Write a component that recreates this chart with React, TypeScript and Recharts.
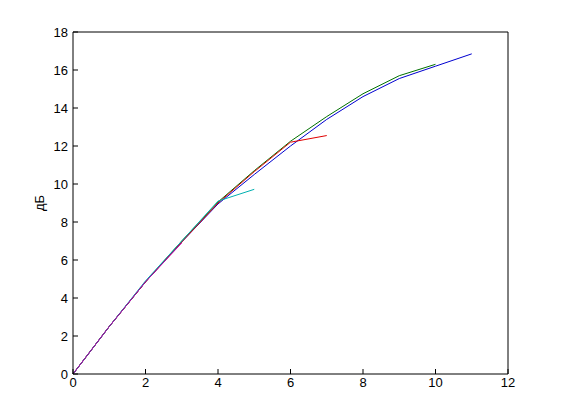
import { LineChart, Line, XAxis, YAxis } from 'recharts'

const xs = [0, 1, 2, 3, 4, 5, 6, 7, 8, 9, 10, 11]
const blue = [0, 2.5, 4.85, 6.95, 8.95, 10.5, 12.0, 13.4, 14.6, 15.55, 16.2, 16.85]
const green = [0, 2.5, 4.85, 7.0, 9.05, 10.7, 12.25, 13.55, 14.75, 15.7, 16.3]
const red = [0, 2.5, 4.85, 6.95, 9.0, 10.65, 12.2, 12.55]
const cyan = [0, 2.5, 4.9, 7.0, 9.1, 9.72]
const magenta = [0, 2.5, 4.85, 6.9]

const xTicks = [0, 2, 4, 6, 8, 10, 12]
const yTicks = [0, 2, 4, 6, 8, 10, 12, 14, 16, 18]

const data = xs.map((x, i) => ({
  x,
  blue: blue[i],
  green: green[i],
  red: red[i],
  cyan: cyan[i],
  magenta: magenta[i],
}))

const series = [
  { key: 'blue', color: '#0000d0' },
  { key: 'green', color: '#007000' },
  { key: 'red', color: '#e00000' },
  { key: 'cyan', color: '#00b0b0' },
  { key: 'magenta', color: '#b000b0' },
]

const tickStyle = { fill: '#000', fontSize: 13, fontFamily: 'Liberation Sans, Arial, sans-serif' }

export default function App() {
  return (
    <LineChart width={553} height={404} data={data} margin={{ top: 4, right: 3, bottom: 0, left: 0 }}>
      <XAxis
        dataKey="x"
        type="number"
        domain={[0, 12]}
        ticks={xTicks}
        height={38}
        tickSize={-5}
        tickMargin={9}
        stroke="#000"
        tick={tickStyle}
      />
      <XAxis xAxisId="top" dataKey="x" type="number" orientation="top" domain={[0, 12]} ticks={xTicks} height={20} tickSize={-5} stroke="#000" tick={false} />
      <YAxis
        type="number"
        domain={[0, 18]}
        ticks={yTicks}
        width={65}
        tickSize={-5}
        tickMargin={10}
        stroke="#000"
        tick={tickStyle}
        label={{ value: 'дБ', angle: -90, position: 'center', dx: -1, fill: '#000', fontSize: 13, fontFamily: 'Liberation Sans, Arial, sans-serif' }}
      />
      <YAxis yAxisId="right" type="number" orientation="right" domain={[0, 18]} ticks={yTicks} width={50} tickSize={-5} stroke="#000" tick={false} />
      {series.map((s) => (
        <Line
          key={s.key}
          type="linear"
          dataKey={s.key}
          stroke={s.color}
          strokeWidth={1}
          dot={false}
          isAnimationActive={false}
        />
      ))}
    </LineChart>
  )
}
